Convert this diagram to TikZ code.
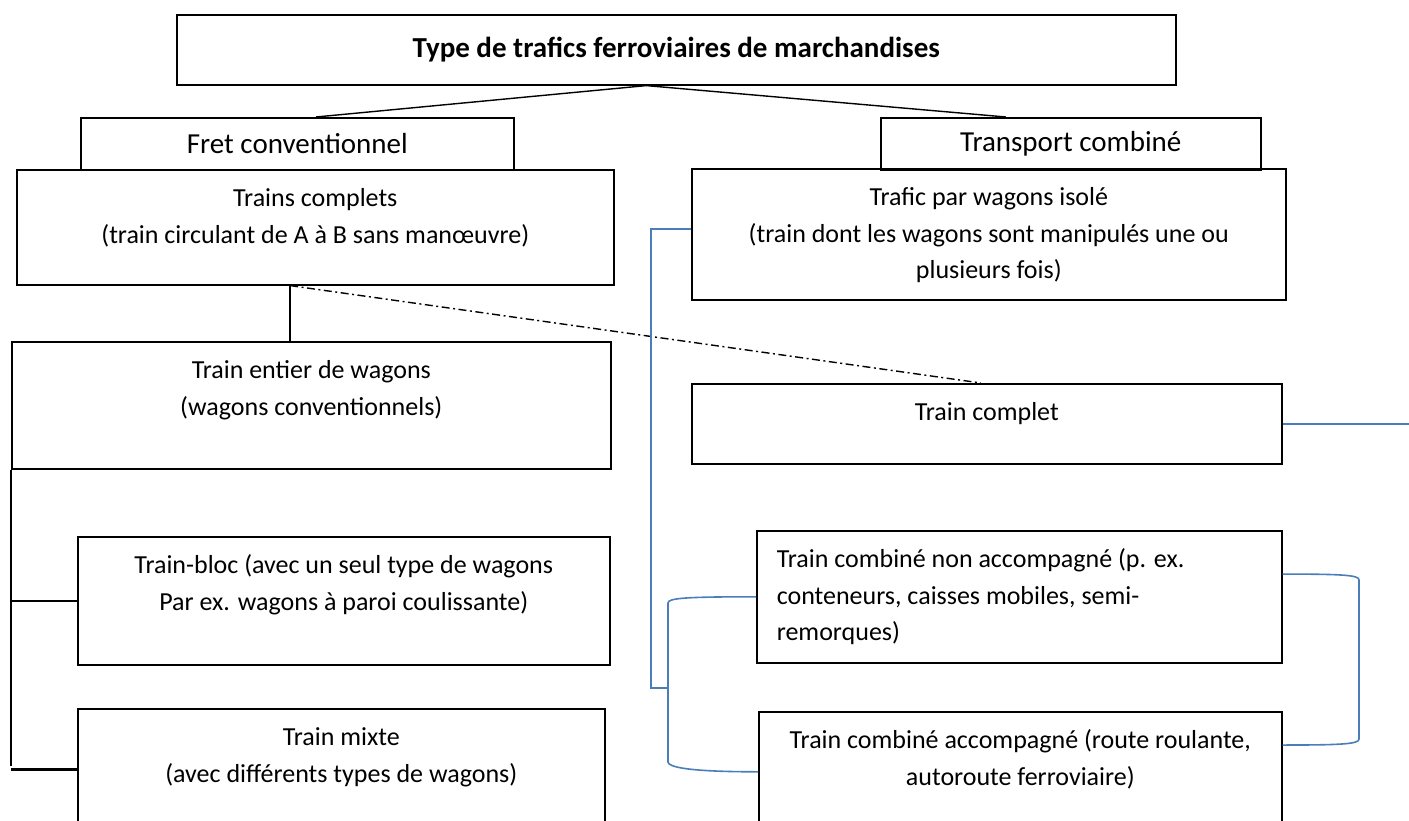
\documentclass[tikz,border=0pt]{standalone}
\usepackage{fontspec}
\setmainfont{Carlito}
\usepackage{tikz}
\usetikzlibrary{calc}
\definecolor{bleu}{HTML}{4A7EBB}
\tikzset{
  boite/.style={draw=black, line width=1.6pt, inner sep=0pt, anchor=north west, font=\fontsize{26}{36.5}\selectfont},
  entete/.style={boite, font=\fontsize{29}{34}\selectfont},
  trait/.style={draw=black, line width=1.4pt},
  tiret/.style={draw=black, line width=1.4pt, dash pattern=on 8pt off 3.5pt on 2pt off 3.5pt},
  lien/.style={draw=bleu, line width=1.6pt},
}
\newcommand{\cadre}[3]{\parbox[t][#2pt][t]{#1pt}{\centering\rule{0pt}{37pt}#3}}
\newcommand{\cadreg}[3]{\parbox[t][#2pt][t]{#1pt}{\raggedright\leftskip=20pt\rule{0pt}{37pt}#3}}
\newcommand{\milieu}[3]{\parbox[c][#2pt][c]{#1pt}{\centering #3}}

\begin{document}
\begin{tikzpicture}[x=1pt, y=-1pt]
\useasboundingbox (0,0) rectangle (1409,821);
% title and the two families
\node[entete, font=\fontsize{29}{34}\selectfont\bfseries] (titre) at (176,14) {\milieu{999}{70}{Type de trafics ferroviaires de marchandises}};
\node[entete] (fret) at (80,117) {\milieu{433}{52}{Fret conventionnel}};
\node[entete] (transp) at (880,117) {\milieu{380}{52}{Transport combiné}};

% left column
\node[boite] (complets) at (16,169) {\cadre{597}{115}{Trains complets\\(train circulant de A à B sans manœuvre)}};
\node[boite] (entier) at (11,341) {\cadre{599}{127}{Train entier de wagons\\(wagons conventionnels)}};
\node[boite] (bloc) at (77,536) {\cadre{532}{128}{Train-bloc (avec un seul type de wagons\\Par ex. wagons à paroi coulissante)}};
\node[boite] (mixte) at (77,708) {\cadre{527}{122}{Train mixte\\(avec différents types de wagons)}};

% right column
\node[boite] (isole) at (691,168) {\cadre{594}{131}{Trafic par wagons isolé\\(train dont les wagons sont manipulés une ou\\plusieurs fois)}};
\node[boite] (trcomplet) at (691,383) {\cadre{590}{80}{Train complet}};
\node[boite] (nonacc) at (756,530) {\cadreg{525}{132}{Train combiné non accompagné (p. ex.\\conteneurs, caisses mobiles, semi-\\remorques)}};
\node[boite] (acc) at (758,711) {\cadre{523}{120}{Train combiné accompagné (route roulante,\\autoroute ferroviaire)}};

% black links
\coordinate (sommet) at ($(titre.south west)!0.47!(titre.south east)$);
\draw[trait] (sommet) -- ($(fret.north west)!0.543!(fret.north east)$);
\draw[trait] (sommet) -- ($(transp.north west)!0.33!(transp.north east)$);
\coordinate (pied) at ($(complets.south west)!0.458!(complets.south east)$);
\draw[trait] (pied) -- (pied |- entier.north);
\draw[tiret] (pied) -- ($(trcomplet.north west)!0.49!(trcomplet.north east)$);
\draw[trait] (entier.south west) |- (bloc.west);
\draw[trait] (entier.south west) -- ($(entier.south west |- mixte.west)+(0,-4)$);
\draw[trait, line width=3pt] (entier.south west |- mixte.west) -- (mixte.west);

% blue links
\coordinate (bord) at (1409,0);
\coordinate (coude) at (651,688);
\coordinate (hautg) at (668,603);
\coordinate (basg) at (668,762);
\coordinate (hautd) at (1359,580);
\coordinate (basd) at (1359,739);
\draw[lien] ($(isole.north west)!0.46!(isole.south west)$) -| (coude) -- (coude -| hautg);
\draw[lien] (nonacc.west) .. controls +(-70,0) and +(0,-5) .. (hautg) -- (basg)
  .. controls +(0,5) and +(-70,0) .. (acc.west);
\draw[lien] (trcomplet.east) -- (trcomplet.east -| bord);
\draw[lien] ($(nonacc.north east)!0.33!(nonacc.south east)$) .. controls +(60,0) and +(0,-5) .. (hautd) -- (basd)
  .. controls +(0,5) and +(60,0) .. ($(acc.north east)!0.28!(acc.south east)$);
\draw[lien] ($(hautd)!0.32!(basd)$) -- ($(hautd)!0.32!(basd)$ -| bord);
\end{tikzpicture}
\end{document}
